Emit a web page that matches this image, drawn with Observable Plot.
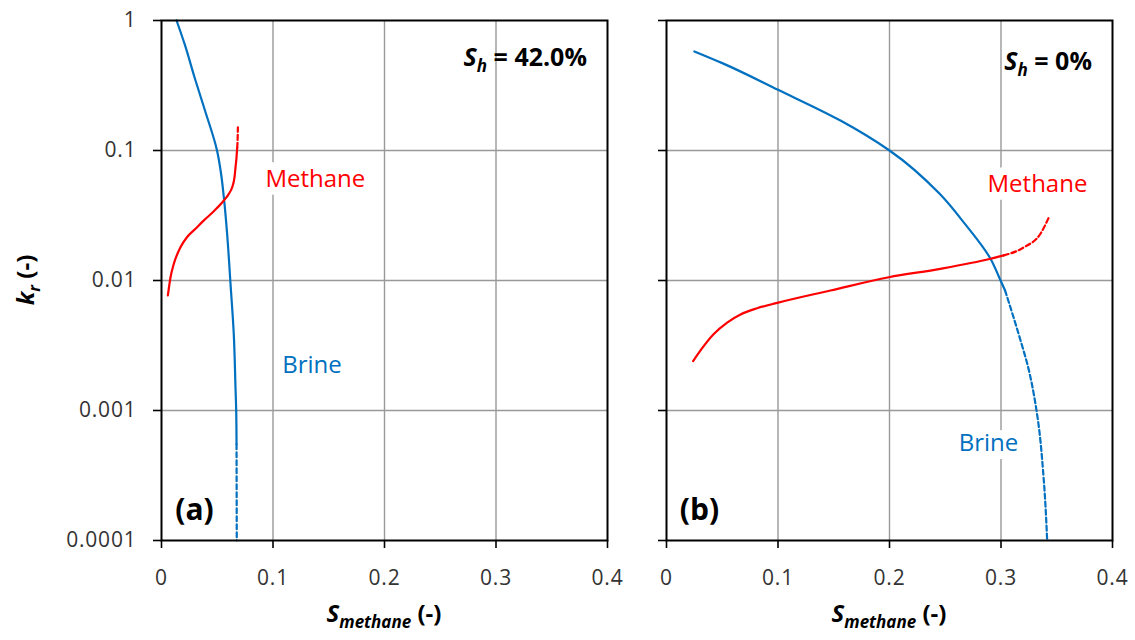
<!DOCTYPE html>
<html><head><meta charset="utf-8">
<script src="https://cdn.jsdelivr.net/npm/d3@7"></script>
<script src="https://cdn.jsdelivr.net/npm/@observablehq/plot@0.6"></script>
<style>
body{margin:0;background:#fff;}
#wrap{position:relative;width:1135px;height:640px;display:flex;background:#fff;}
svg{font-family:"Open Sans",sans-serif;}
g[aria-label="x-axis tick label"], g[aria-label="y-axis tick label"],
g[aria-label="x-axis tick label"] text, g[aria-label="y-axis tick label"] text{font-size:21px !important;letter-spacing:0.8px;font-family:"Open Sans",sans-serif;}
</style></head><body><div id="wrap"></div>
<script>
// ---- axis ticks ----
const xTicks = [0, 0.1, 0.2, 0.3, 0.4];
const xTickLabels = ["0", "0.1", "0.2", "0.3", "0.4"];
const yTicks = [0.0001, 0.001, 0.01, 0.1, 1];
const yTickLabels = ["0.0001", "0.001", "0.01", "0.1", "1"];

// ---- panel (a): Sh = 42.0% ----
const brineA_S      = [0.0135, 0.0207, 0.0296, 0.039, 0.0498, 0.0534, 0.0559, 0.059, 0.0619, 0.0648, 0.0664, 0.067, 0.0673];
const brineA_kr     = [1.0, 0.66, 0.366, 0.203, 0.1, 0.0665, 0.0437, 0.022, 0.0094, 0.0039, 0.00147, 0.001, 0.00055];
const brineA_dS     = [0.0673, 0.0675];
const brineA_dkr    = [0.00055, 0.0001];
const methaneA_S    = [0.0057, 0.0081, 0.011, 0.017, 0.023, 0.0305, 0.038, 0.0469, 0.0559, 0.0604, 0.0634, 0.0655, 0.0664, 0.0673, 0.0679];
const methaneA_kr   = [0.00767, 0.0106, 0.0134, 0.018, 0.0216, 0.025, 0.029, 0.0341, 0.0412, 0.0464, 0.0522, 0.0623, 0.0744, 0.0889, 0.105];
const methaneA_dS   = [0.0679, 0.0683, 0.0685];
const methaneA_dkr  = [0.105, 0.125, 0.151];

// ---- panel (b): Sh = 0% ----
const brineB_S      = [0.025, 0.05, 0.1, 0.156, 0.2, 0.245, 0.268, 0.2906, 0.2996, 0.3036];
const brineB_kr     = [0.578, 0.47, 0.293, 0.17, 0.1, 0.0464, 0.027, 0.0147, 0.01, 0.0084];
const brineB_dS     = [0.3036, 0.3157, 0.3247, 0.3323, 0.3384, 0.3414];
const brineB_dkr    = [0.0084, 0.0039, 0.00209, 0.000944, 0.000289, 0.0001];
const methaneB_S    = [0.0239, 0.0305, 0.0424, 0.0544, 0.0664, 0.0813, 0.0993, 0.147, 0.1994, 0.2457, 0.2906, 0.3025];
const methaneB_kr   = [0.0024, 0.0029, 0.00388, 0.00475, 0.00548, 0.00612, 0.00673, 0.00838, 0.0106, 0.0123, 0.0147, 0.0156];
const methaneB_dS   = [0.3025, 0.3206, 0.3354, 0.343];
const methaneB_dkr  = [0.0156, 0.018, 0.0229, 0.0307];

// ---- labels ----
const seriesNames = ["Methane", "Brine"];
const labelsA_S  = [0.138, 0.135];
const labelsA_kr = [0.0598, 0.00222];
const labelsB_S  = [0.3327, 0.2888];
const labelsB_kr = [0.055, 0.000557];
const panelTags  = ["(a)", "(b)"];
const tagS = 0.0296, tagKr = 0.00017;
const shValues = ["42.0%", "0%"];
const shS = 0.382;
const shKr = [0.443, 0.41];

const BLUE = "#0070C0", RED = "#FF0000";
const zip = (xs, ys) => xs.map((x, i) => ({S: x, kr: ys[i]}));

function panel(p) {
  const plot = Plot.plot({
    width: p.width, height: 640,
    marginLeft: p.ml, marginRight: p.mr, marginTop: 20, marginBottom: 100,
    style: {fontFamily: "Open Sans", fontSize: "20px", color: "black", background: "transparent", overflow: "visible"},
    x: {domain: [0, 0.4]},
    y: {type: "log", domain: [0.0001, 1]},
    marks: [
      Plot.gridX({ticks: [0.1, 0.2, 0.3], stroke: "#999", strokeOpacity: 1, strokeWidth: 1.4}),
      Plot.gridY({ticks: [0.001, 0.01, 0.1], stroke: "#999", strokeOpacity: 1, strokeWidth: 1.4}),
      Plot.text(p.labels, {x: "S", y: "kr", text: "t", fill: "c", fontSize: 24, stroke: "white", strokeWidth: 16, paintOrder: "stroke", strokeLinejoin: "round"}),
      Plot.line(p.brine, {x: "S", y: "kr", stroke: BLUE, strokeWidth: 2.2, curve: "monotone-y"}),
      Plot.line(p.brineD, {x: "S", y: "kr", stroke: BLUE, strokeWidth: 2.2, strokeDasharray: "5,3", curve: "monotone-y"}),
      Plot.line(p.methane, {x: "S", y: "kr", stroke: RED, strokeWidth: 2.2, curve: "monotone-x"}),
      Plot.line(p.methaneD, {x: "S", y: "kr", stroke: RED, strokeWidth: 2.2, strokeDasharray: "5,3", curve: "monotone-x"}),
      Plot.text([p.tag], {x: () => tagS, y: () => tagKr, text: d => d, fontSize: 30, fontWeight: "bold", fill: "black"}),
      Plot.frame({stroke: "black", strokeWidth: 2}),
      Plot.axisX({ticks: xTicks, tickFormat: d => xTickLabels[xTicks.indexOf(d)], tickSize: 8, tickPadding: 22, label: null, strokeWidth: 1.6, fill: "#333", fontSize: 21}),
      Plot.axisY({ticks: yTicks, tickFormat: p.showY ? (d => yTickLabels[yTicks.indexOf(d)]) : (() => ""), tickSize: 8, tickPadding: 17, label: null, strokeWidth: 1.6, fill: "#333", fontSize: 21})
    ]
  });
  const svg = d3.select(plot);
  const xs = plot.scale("x"), ys = plot.scale("y");
  // Sh annotation
  const sh = svg.append("text")
    .attr("x", xs.apply(shS)).attr("y", ys.apply(p.shKr))
    .attr("text-anchor", "end").attr("font-weight", "bold").attr("font-size", 25).attr("fill", "black");
  sh.append("tspan").attr("font-style", "italic").text("S");
  sh.append("tspan").attr("font-style", "italic").attr("font-size", 17).attr("dy", 6).text("h");
  sh.append("tspan").attr("dy", -6).text(" = " + p.sh);
  // x-axis title
  const cx = (xs.range[0] + xs.range[1]) / 2;
  const xt = svg.append("text").attr("x", cx).attr("y", 622)
    .attr("text-anchor", "middle").attr("font-weight", "bold").attr("font-size", 24).attr("fill", "black");
  xt.append("tspan").attr("font-style", "italic").text("S");
  xt.append("tspan").attr("font-style", "italic").attr("font-size", 17).attr("dy", 6).text("methane");
  xt.append("tspan").attr("dy", -6).text(" (-)");
  if (p.showY) {
    const cy = (ys.range[0] + ys.range[1]) / 2;
    const yt = svg.append("text").attr("transform", `translate(34,${cy}) rotate(-90)`)
      .attr("text-anchor", "middle").attr("font-weight", "bold").attr("font-size", 24).attr("fill", "black");
    yt.append("tspan").attr("font-style", "italic").text("k");
    yt.append("tspan").attr("font-style", "italic").attr("font-size", 16).attr("dy", 6).text("r");
    yt.append("tspan").attr("dy", -6).text(" (-)");
  }
  return plot;
}

const wrap = document.getElementById("wrap");
wrap.append(panel({
  width: 620, ml: 161, mr: 13, showY: true,
  brine: zip(brineA_S, brineA_kr), brineD: zip(brineA_dS, brineA_dkr),
  methane: zip(methaneA_S, methaneA_kr), methaneD: zip(methaneA_dS, methaneA_dkr),
  labels: seriesNames.map((t, i) => ({t, S: labelsA_S[i], kr: labelsA_kr[i], c: i === 0 ? RED : BLUE})),
  tag: panelTags[0], sh: shValues[0], shKr: shKr[0]
}));
wrap.append(panel({
  width: 515, ml: 46, mr: 23, showY: false,
  brine: zip(brineB_S, brineB_kr), brineD: zip(brineB_dS, brineB_dkr),
  methane: zip(methaneB_S, methaneB_kr), methaneD: zip(methaneB_dS, methaneB_dkr),
  labels: seriesNames.map((t, i) => ({t, S: labelsB_S[i], kr: labelsB_kr[i], c: i === 0 ? RED : BLUE})),
  tag: panelTags[1], sh: shValues[1], shKr: shKr[1]
}));
</script></body></html>
